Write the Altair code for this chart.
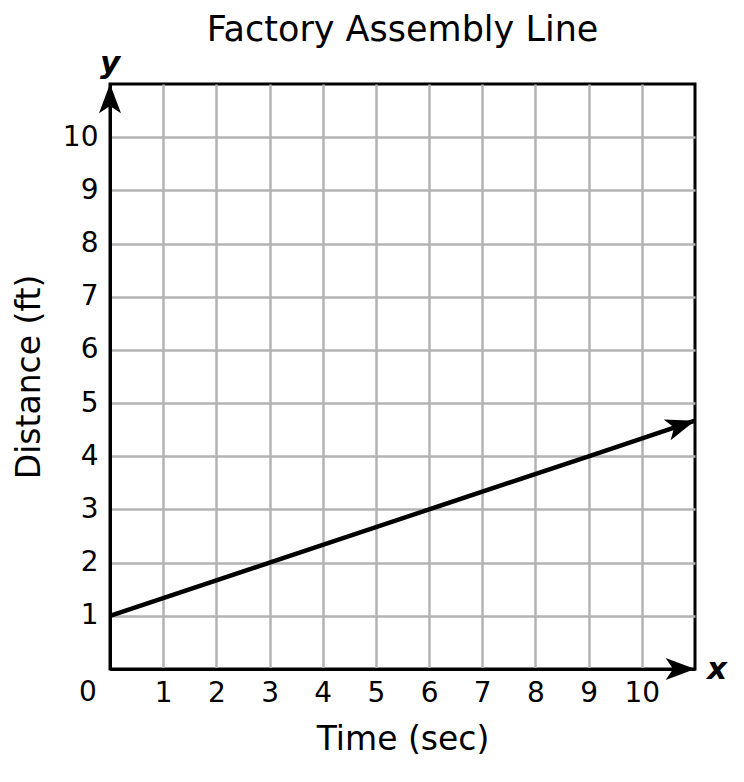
"""
Factory Assembly Line: distance vs time on a square grid with arrowed axes
"""

import altair as alt
import pandas as pd

# Axis ticks shown on both axes
tick_values = [1, 2, 3, 4, 5, 6, 7, 8, 9, 10]

# Points on the line (distance grows by 1 ft every 3 sec)
line_time = [0, 3, 6, 9, 11]
line_dist = [1, 2, 3, 4, 4.67]

line_df = pd.DataFrame({'Time': line_time, 'Distance': line_dist})

FONT = 'DejaVu Sans'
# arrowhead pointing up, tip at the origin
ARROW = 'M0,0 L0.75,2 L0,1.5 L-0.75,2 Z'
ARROW_SIZE = 860

x_scale = alt.Scale(domain=[0, 11], nice=False, zero=True)
y_scale = alt.Scale(domain=[0, 11], nice=False, zero=True)

x_axis = alt.Axis(
    values=tick_values,
    title='Time (sec)',
    grid=True,
    ticks=False,
    tickSize=0,
    labelFontSize=28,
    labelPadding=10,
    labelColor='black',
    titleFontSize=33,
    titleFontWeight='normal',
    titleColor='black',
    titlePadding=16,
    domainColor='black',
    domainWidth=3,
    gridColor='#b3b3b3',
    gridWidth=2.5,
    gridOpacity=1,
)

y_axis = alt.Axis(
    values=tick_values,
    title='Distance (ft)',
    grid=True,
    ticks=False,
    tickSize=0,
    labelFontSize=28,
    labelPadding=12,
    labelColor='black',
    titleFontSize=33,
    titleFontWeight='normal',
    titleColor='black',
    titlePadding=16,
    domainColor='black',
    domainWidth=3,
    gridColor='#b3b3b3',
    gridWidth=2.5,
    gridOpacity=1,
)

# The line itself
line = alt.Chart(line_df).mark_line(color='black', strokeWidth=4.5).encode(
    x=alt.X('Time:Q', scale=x_scale, axis=x_axis),
    y=alt.Y('Distance:Q', scale=y_scale, axis=y_axis),
)

# Arrowhead at the end of the line
line_end = pd.DataFrame({'Time': [line_time[-1]], 'Distance': [line_dist[-1]]})
line_arrow = alt.Chart(line_end).mark_point(
    shape=ARROW, filled=True, color='black', opacity=1, size=ARROW_SIZE, strokeWidth=0
).encode(
    x=alt.X('Time:Q', scale=x_scale),
    y=alt.Y('Distance:Q', scale=y_scale),
    angle=alt.value(71.57),
)

# Axis arrowheads
y_end = pd.DataFrame({'Time': [0], 'Distance': [11]})
x_end = pd.DataFrame({'Time': [11], 'Distance': [0]})

y_arrow = alt.Chart(y_end).mark_point(
    shape=ARROW, filled=True, color='black', opacity=1, size=ARROW_SIZE, strokeWidth=0
).encode(
    x=alt.X('Time:Q', scale=x_scale),
    y=alt.Y('Distance:Q', scale=y_scale),
    angle=alt.value(0),
)

x_arrow = alt.Chart(x_end).mark_point(
    shape=ARROW, filled=True, color='black', opacity=1, size=ARROW_SIZE, strokeWidth=0
).encode(
    x=alt.X('Time:Q', scale=x_scale),
    y=alt.Y('Distance:Q', scale=y_scale),
    angle=alt.value(90),
)

# "y" and "x" axis letters
y_letter = alt.Chart(y_end).mark_text(
    text='y', font=FONT, fontSize=31, fontWeight='bold', fontStyle='italic',
    align='center', baseline='alphabetic', dy=-11, color='black'
).encode(
    x=alt.X('Time:Q', scale=x_scale),
    y=alt.Y('Distance:Q', scale=y_scale),
)

x_letter = alt.Chart(x_end).mark_text(
    text='x', font=FONT, fontSize=31, fontWeight='bold', fontStyle='italic',
    align='center', baseline='middle', dx=22, dy=1, color='black'
).encode(
    x=alt.X('Time:Q', scale=x_scale),
    y=alt.Y('Distance:Q', scale=y_scale),
)

# Shared "0" at the origin corner
origin = pd.DataFrame({'Time': [0], 'Distance': [0], 'label': ['0']})
zero_label = alt.Chart(origin).mark_text(
    font=FONT, fontSize=28, align='center', baseline='middle', dx=-22, dy=24, color='black'
).encode(
    x=alt.X('Time:Q', scale=x_scale),
    y=alt.Y('Distance:Q', scale=y_scale),
    text='label:N',
)

chart = (line + line_arrow + y_arrow + x_arrow + y_letter + x_letter + zero_label).properties(
    width=585,
    height=585,
    title=alt.TitleParams(
        'Factory Assembly Line',
        fontSize=35,
        fontWeight='normal',
        font=FONT,
        color='black',
        anchor='middle',
        offset=0,
    ),
).configure(
    font=FONT,
).configure_view(
    stroke='black',
    strokeWidth=3,
)

chart.save("out.html", embed_options={"renderer": "svg", "actions": False})
